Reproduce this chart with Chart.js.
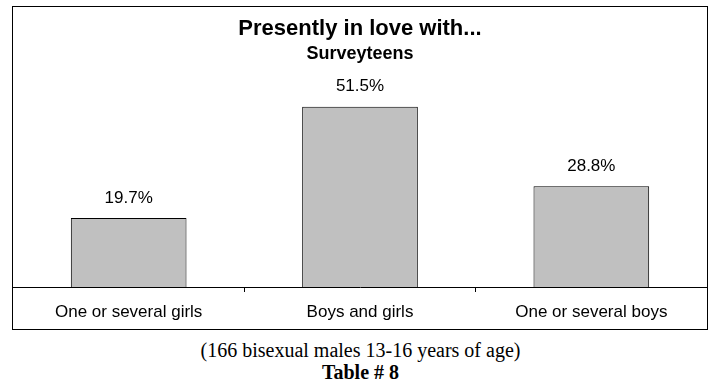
<!DOCTYPE html>
<html>
<head>
<meta charset="utf-8">
<script src="https://cdn.jsdelivr.net/npm/chart.js@4"></script>
<style>
  body { margin: 0; background: #fff; width: 717px; height: 390px; position: relative; overflow: hidden; }
  #frame { position: absolute; left: 12px; top: 6px; width: 694px; height: 322px; border: 1px solid #000; }
  #frame canvas { display: block; }
  .note { position: absolute; left: 0; width: 721px; text-align: center; font-family: 'Liberation Serif', 'Times New Roman', serif; color: #000; font-size: 20px; line-height: 23px; }
  #note1 { top: 339px; }
  #note2 { top: 361px; font-weight: bold; }
</style>
</head>
<body>
<div id="frame"><canvas id="loveChart" width="694" height="322"></canvas></div>
<div class="note" id="note1">(166 bisexual males 13-16 years of age)</div>
<div class="note" id="note2">Table # 8</div>
<script>
const categories = ['One or several girls', 'Boys and girls', 'One or several boys'];
const percentages = [19.7, 51.5, 28.8];

// draws the "xx.x%" text above each bar
const valueLabels = {
    id: 'valueLabels',
    afterDatasetsDraw(chart) {
        const ctx = chart.ctx;
        ctx.save();
        ctx.font = '17px "Liberation Sans", Arial, sans-serif';
        ctx.fillStyle = '#000';
        ctx.textAlign = 'center';
        ctx.textBaseline = 'middle';
        chart.getDatasetMeta(0).data.forEach((bar, i) => {
            ctx.fillText(percentages[i].toFixed(1) + '%', bar.x, bar.y - 20);
        });
        ctx.restore();
    }
};

const ctx = document.getElementById('loveChart').getContext('2d');
new Chart(ctx, {
    type: 'bar',
    data: {
        labels: categories,
        datasets: [{
            data: percentages,
            backgroundColor: '#c0c0c0',
            borderColor: '#000',
            borderWidth: 1,
            categoryPercentage: 1,
            barPercentage: 0.5
        }]
    },
    options: {
        responsive: false,
        animation: false,
        layout: { padding: 0 },
        plugins: {
            legend: { display: false },
            tooltip: { enabled: false },
            title: {
                display: true,
                text: 'Presently in love with...',
                color: '#000',
                font: { family: '"Liberation Sans", Arial, sans-serif', size: 22, weight: 'bold' },
                padding: { top: 9, bottom: 1 }
            },
            subtitle: {
                display: true,
                text: 'Surveyteens',
                color: '#000',
                font: { family: '"Liberation Sans", Arial, sans-serif', size: 18, weight: 'bold' },
                padding: { top: 0, bottom: 12 }
            }
        },
        scales: {
            x: {
                afterFit: (scale) => { scale.height = 42; },
                grid: { drawOnChartArea: false, drawTicks: true, tickLength: 5, color: '#000' },
                border: { display: true, color: '#000', width: 1 },
                ticks: {
                    color: '#000',
                    padding: 10,
                    maxRotation: 0,
                    font: { family: '"Liberation Sans", Arial, sans-serif', size: 17 }
                }
            },
            y: {
                display: false,
                min: 0,
                max: 60
            }
        }
    },
    plugins: [valueLabels]
});
</script>
</body>
</html>
